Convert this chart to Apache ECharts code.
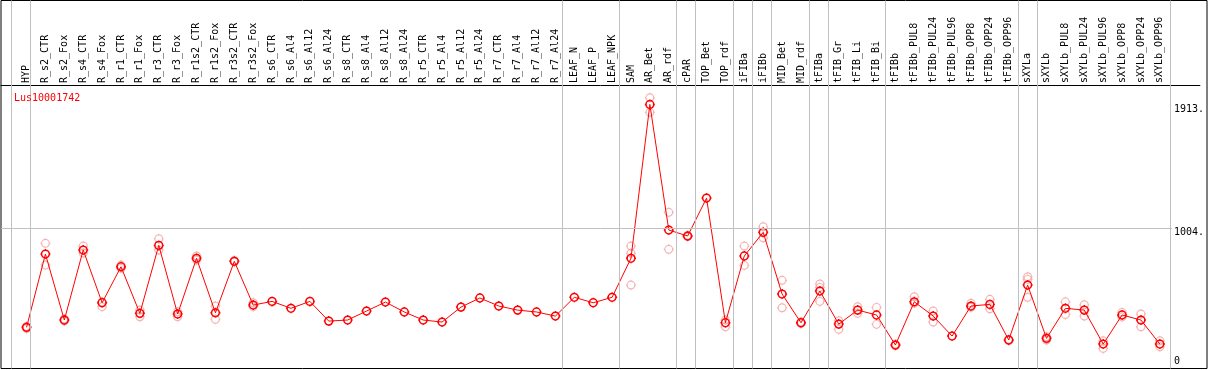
<!DOCTYPE html>
<html><head><meta charset="utf-8">
<script src="https://cdn.jsdelivr.net/npm/echarts@6/dist/echarts.min.js"></script>
<style>html,body{margin:0;padding:0;background:#fff}#c{width:1209px;height:370px}</style>
</head><body><div id="c"></div>
<script>
const categories = ["HYP","R_s2_CTR","R_s2_Fox","R_s4_CTR","R_s4_Fox","R_r1_CTR","R_r1_Fox","R_r3_CTR","R_r3_Fox","R_r1s2_CTR","R_r1s2_Fox","R_r3s2_CTR","R_r3s2_Fox","R_s6_CTR","R_s6_Al4","R_s6_Al12","R_s6_Al24","R_s8_CTR","R_s8_Al4","R_s8_Al12","R_s8_Al24","R_r5_CTR","R_r5_Al4","R_r5_Al12","R_r5_Al24","R_r7_CTR","R_r7_Al4","R_r7_Al12","R_r7_Al24","LEAF_N","LEAF_P","LEAF_NPK","SAM","AR_Bet","AR_rdf","cPAR","TOP_Bet","TOP_rdf","iFIBa","iFIBb","MID_Bet","MID_rdf","tFIBa","tFIB_Gr","tFIB_Li","tFIB_Bi","tFIBb","tFIBb_PUL8","tFIBb_PUL24","tFIBb_PUL96","tFIBb_OPP8","tFIBb_OPP24","tFIBb_OPP96","sXYLa","sXYLb","sXYLb_PUL8","sXYLb_PUL24","sXYLb_PUL96","sXYLb_OPP8","sXYLb_OPP24","sXYLb_OPP96"];
const meanValues = [273,812,327,842,454,719,376,876,371,781,380,759,437,464,413,464,319,327,393,459,386,327,312,422,489,430,400,386,356,494,454,494,781,1913,989,945,1224,307,798,972,518,307,540,297,400,364,143,461,356,209,430,442,180,584,192,413,400,150,364,327,150];
const repA = [265,891,320,871,425,731,351,925,351,798,430,765,454,null,null,null,null,null,null,null,null,null,null,null,null,null,null,null,null,null,null,null,871,1962,1119,950,null,277,871,1013,619,300,592,322,425,420,150,498,393,null,450,479,185,645,204,461,439,174,383,371,174];
const repB = [280,731,335,820,460,707,400,842,388,768,332,755,425,null,null,null,null,null,null,null,null,null,null,null,null,null,null,null,null,null,null,null,584,1855,847,940,null,327,729,932,417,312,464,258,376,295,138,450,312,null,420,410,175,494,180,368,356,118,350,277,130];
const repC = [null,null,null,null,null,null,null,null,null,null,null,null,null,null,null,null,null,null,null,null,null,null,null,null,null,null,null,null,null,null,null,null,818,null,null,null,null,null,null,null,null,null,567,null,null,null,null,null,null,null,null,null,null,626,null,null,null,null,null,null,null];
const yTickValues = [0, 1004, 1913];
const gridLineValue = 1004;
const groupEnds = [-1, 0, 28, 31, 34, 35, 37, 38, 39, 41, 42, 45, 52, 53, 60];
const titleText = "Lus10001742";

const FONT = "DejaVu Sans Mono";
const X_MIN = -1.3526, X_MAX = 62.12;
const SEP_OFFSET = 0.21;
const sym = 'path://M5,0.5L5,1.5M5,8.5L5,9.5M0.5,5L1.5,5M8.5,5L9.5,5M8.5,5A3.5,3.5,0,1,1,1.5,5A3.5,3.5,0,1,1,8.5,5Z';
const idx = categories.map((_, i) => i);
const toPairs = arr => arr.map((v, i) => v == null ? null : [i, v]).filter(p => p);
const repPairs = [].concat(toPairs(repA), toPairs(repB), toPairs(repC));

const chart = echarts.init(document.getElementById('c'), null, {renderer: 'canvas'});
chart.setOption({
  animation: false,
  title: {text: titleText, left: 9, top: 88, textStyle: {color: '#ff0000', fontFamily: FONT, fontSize: 10, fontWeight: 'normal'}},
  grid: [
    {left: 1, right: 2, top: 85, bottom: 2, show: false},
    {left: 1, right: 2, top: 0.5, bottom: 1.5, show: true, borderColor: '#000', borderWidth: 1, backgroundColor: 'transparent'}
  ],
  xAxis: [
    {type: 'value', gridIndex: 0, position: 'top', min: X_MIN, max: X_MAX,
     axisLine: {show: true, onZero: false, lineStyle: {color: '#000', width: 1}},
     axisTick: {show: false}, splitLine: {show: false},
     axisLabel: {customValues: idx, rotate: -90, margin: 2, fontFamily: FONT, fontSize: 10, color: '#000',
       formatter: v => categories[Math.round(v)] || ''}},
    {type: 'value', gridIndex: 1, min: X_MIN, max: X_MAX, show: false}
  ],
  yAxis: [
    {type: 'value', gridIndex: 0, position: 'right', min: -26, max: 2056, z: 5,
     axisLine: {show: false}, axisTick: {show: false}, splitLine: {show: false},
     axisLabel: {customValues: yTickValues, inside: true, align: 'left', margin: 28, color: '#000',
       fontFamily: FONT, fontSize: 10,
       formatter: v => v === 0 ? '{z|0}' : '{v|' + v + '.}',
       rich: {
         v: {fontFamily: FONT, fontSize: 10, color: '#000', padding: [9, 2, 0, 2], backgroundColor: '#fff'},
         z: {fontFamily: FONT, fontSize: 10, color: '#000', padding: [0, 2, 7, 2]}
       }}},
    {type: 'value', gridIndex: 1, min: 0, max: 1, show: false}
  ],
  series: [
    {type: 'line', xAxisIndex: 1, yAxisIndex: 1, data: [], silent: true, z: -2,
     markLine: {silent: true, symbol: 'none', label: {show: false},
       lineStyle: {color: '#c0c0c0', width: 1, type: 'solid'},
       data: groupEnds.map(i => ({xAxis: i + SEP_OFFSET}))}},
    {type: 'line', xAxisIndex: 0, yAxisIndex: 0, data: [], silent: true, z: -1,
     markLine: {silent: true, symbol: 'none', label: {show: false},
       lineStyle: {color: '#c0c0c0', width: 1, type: 'solid'},
       data: [{yAxis: gridLineValue}]}},
    {type: 'scatter', xAxisIndex: 0, yAxisIndex: 0, data: repPairs, symbol: sym, symbolSize: 10, z: 2,
     itemStyle: {color: 'rgba(0,0,0,0)', borderColor: '#f2a0a0', borderWidth: 1.2}},
    {type: 'line', xAxisIndex: 0, yAxisIndex: 0, data: meanValues.map((v, i) => [i, v]), z: 3,
     symbol: sym, symbolSize: 10, showAllSymbol: true,
     lineStyle: {color: '#ff0000', width: 1},
     itemStyle: {color: 'rgba(0,0,0,0)', borderColor: '#ff0000', borderWidth: 1.5}}
  ]
});
</script>
</body></html>
